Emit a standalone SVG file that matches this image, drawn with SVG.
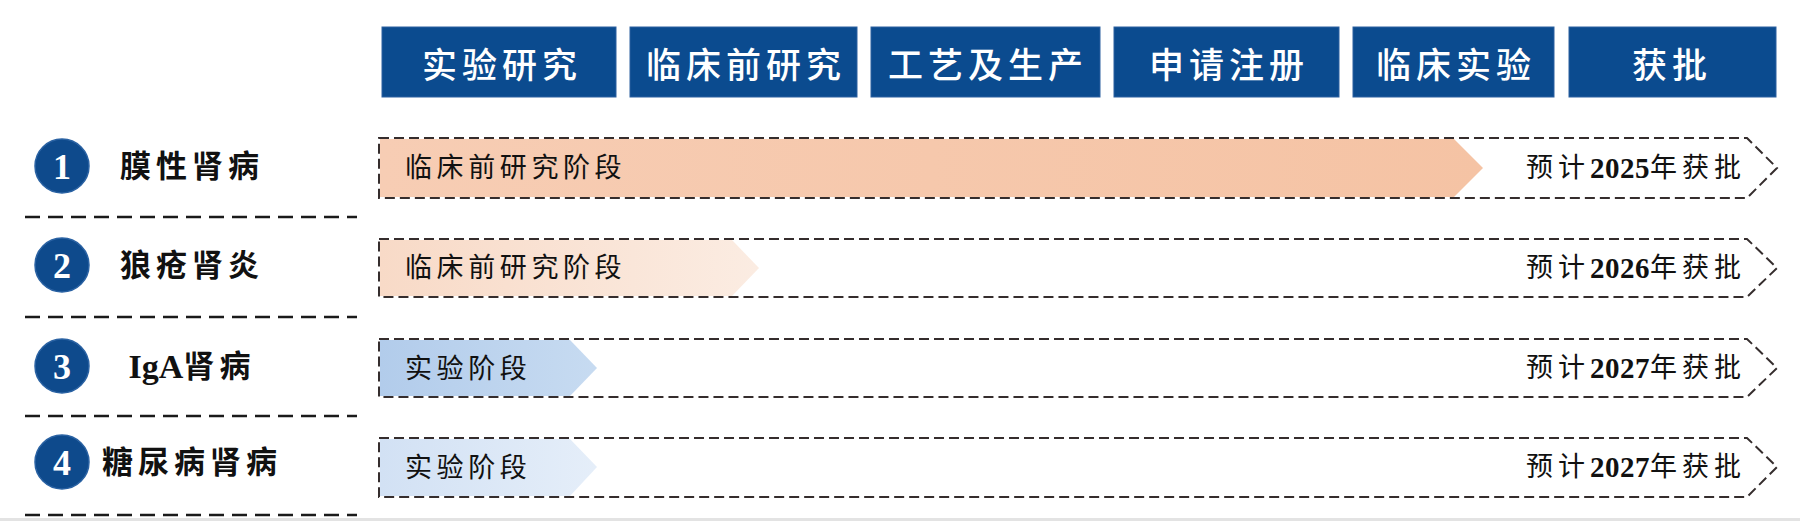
<svg xmlns="http://www.w3.org/2000/svg" width="1800" height="521" viewBox="0 0 1800 521">
<style>
.hdr{fill:#0b4b8f;stroke:#2d61a0;stroke-width:1}
.hdrt{font-family:"Noto Sans CJK SC","Noto Sans",sans-serif;font-size:35px;font-weight:500;fill:#fff;letter-spacing:5px;text-anchor:middle;dominant-baseline:central}
.circ{fill:#0e4a8c;stroke:#2a62a3;stroke-width:1.5}
.num{font-family:"Liberation Serif",serif;font-size:36px;font-weight:bold;fill:#fff;text-anchor:middle;dominant-baseline:central}
.lbl{font-family:"Liberation Serif","Noto Sans CJK SC",serif;font-size:31px;font-weight:bold;fill:#111;letter-spacing:5px;text-anchor:middle;dominant-baseline:central}
.lbl tspan.l{letter-spacing:0;font-size:34px}
.out{fill:none;stroke:#352d2d;stroke-width:2;stroke-dasharray:10 5}
.stage{font-family:"Noto Sans CJK SC",sans-serif;font-size:27px;fill:#111;letter-spacing:4.6px;dominant-baseline:central}
.eta{font-family:"Liberation Serif","Noto Sans CJK SC",serif;font-size:27px;fill:#111;letter-spacing:5px;text-anchor:end;dominant-baseline:central}
.eta tspan.d{font-weight:bold;font-size:29px;letter-spacing:0.5px}
.sep{fill:none;stroke:#1a1a1a;stroke-width:2.6;stroke-dasharray:15 8}
</style>
<defs>
<linearGradient id="g1" x1="0" x2="1" y1="0" y2="0"><stop offset="0" stop-color="#f7cdb4"/><stop offset="1" stop-color="#f5c3a4"/></linearGradient>
<linearGradient id="g2" x1="0" x2="1" y1="0" y2="0"><stop offset="0" stop-color="#f8dac7"/><stop offset="1" stop-color="#fbece2"/></linearGradient>
<linearGradient id="g3" x1="0" x2="1" y1="0" y2="0"><stop offset="0" stop-color="#b2cceb"/><stop offset="1" stop-color="#c7dbf1"/></linearGradient>
<linearGradient id="g4" x1="0" x2="1" y1="0" y2="0"><stop offset="0" stop-color="#d2e1f4"/><stop offset="1" stop-color="#e5eef9"/></linearGradient>
</defs>
<rect x="0" y="0" width="1800" height="521" fill="#ffffff"/>
<rect x="0" y="518" width="1800" height="3" fill="#e3e3e3"/>

<g id="header-1"><rect class="hdr" x="382" y="27" width="234" height="70"/><text class="hdrt" x="502" y="62">实验研究</text></g>
<g id="header-2"><rect class="hdr" x="630" y="27" width="227" height="70"/><text class="hdrt" x="746" y="62">临床前研究</text></g>
<g id="header-3"><rect class="hdr" x="871" y="27" width="229" height="70"/><text class="hdrt" x="988" y="62">工艺及生产</text></g>
<g id="header-4"><rect class="hdr" x="1114" y="27" width="225" height="70"/><text class="hdrt" x="1229" y="62">申请注册</text></g>
<g id="header-5"><rect class="hdr" x="1353" y="27" width="201" height="70"/><text class="hdrt" x="1456" y="62">临床实验</text></g>
<g id="header-6"><rect class="hdr" x="1569" y="27" width="207" height="70"/><text class="hdrt" x="1672" y="62">获批</text></g>

<g id="row-1">
<circle class="circ" cx="62" cy="166" r="27"/><text class="num" x="62" y="167">1</text>
<text class="lbl" x="192" y="166">膜性肾病</text>
<polygon points="380,139 1454,139 1483,168 1454,197 380,197" fill="url(#g1)"/>
<polygon class="out" points="379,138 1747,138 1777,168 1747,198 379,198"/>
<text class="stage" x="405" y="165">临床前研究阶段</text>
<text class="eta" x="1746" y="168">预计<tspan class="d">2025</tspan>年获批</text>
</g>

<g id="row-2">
<circle class="circ" cx="62" cy="265" r="27"/><text class="num" x="62" y="266">2</text>
<text class="lbl" x="192" y="265">狼疮肾炎</text>
<polygon points="380,240 732,240 759,268 732,296 380,296" fill="url(#g2)"/>
<polygon class="out" points="379,239 1747,239 1777,268 1747,297 379,297"/>
<text class="stage" x="405" y="265">临床前研究阶段</text>
<text class="eta" x="1746" y="268">预计<tspan class="d">2026</tspan>年获批</text>
</g>

<g id="row-3">
<circle class="circ" cx="62" cy="366" r="27"/><text class="num" x="62" y="367">3</text>
<text class="lbl" x="192" y="366"><tspan class="l">IgA</tspan>肾病</text>
<polygon points="380,340 570,340 597,368 570,396 380,396" fill="url(#g3)"/>
<polygon class="out" points="379,339 1747,339 1777,368 1747,397 379,397"/>
<text class="stage" x="405" y="366">实验阶段</text>
<text class="eta" x="1746" y="368">预计<tspan class="d">2027</tspan>年获批</text>
</g>

<g id="row-4">
<circle class="circ" cx="62" cy="462" r="27"/><text class="num" x="62" y="463">4</text>
<text class="lbl" x="192" y="462">糖尿病肾病</text>
<polygon points="380,439 570,439 597,467 570,496 380,496" fill="url(#g4)"/>
<polygon class="out" points="379,438 1747,438 1777,467 1747,497 379,497"/>
<text class="stage" x="405" y="465">实验阶段</text>
<text class="eta" x="1746" y="467">预计<tspan class="d">2027</tspan>年获批</text>
</g>

<g id="connectors">
<line class="sep" x1="25" y1="217" x2="357" y2="217"/>
<line class="sep" x1="25" y1="317" x2="357" y2="317"/>
<line class="sep" x1="25" y1="416" x2="357" y2="416"/>
<line class="sep" x1="25" y1="515" x2="357" y2="515"/>
</g>
</svg>
